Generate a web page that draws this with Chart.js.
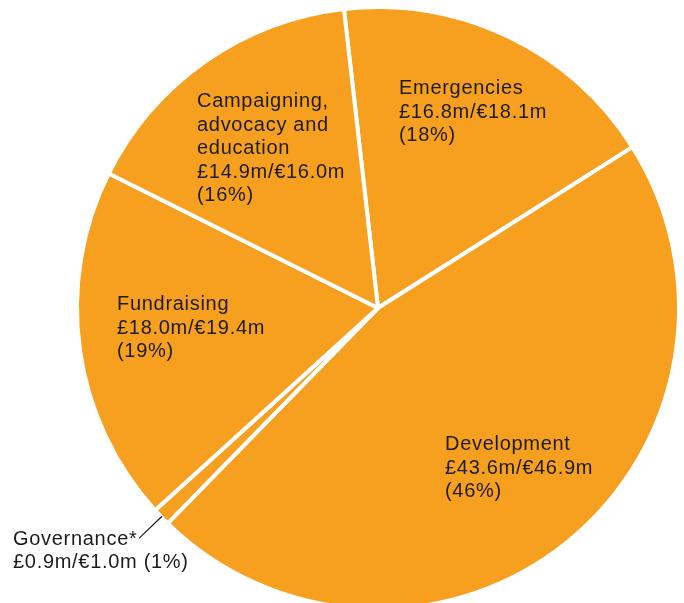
<!DOCTYPE html>
<html>
<head>
<meta charset="utf-8">
<script src="https://cdn.jsdelivr.net/npm/chart.js@4.4.1/dist/chart.umd.min.js"></script>
<style>
  html, body { margin: 0; padding: 0; background: #fff; overflow: hidden; width: 684px; height: 603px; }
  #spend { position: absolute; left: 0; top: 5px; }
</style>
</head>
<body>
<canvas id="spend" width="756" height="606"></canvas>
<script>
// spending by area, clockwise from just left of the top
const categories = ['Emergencies', 'Development', 'Governance*', 'Fundraising', 'Campaigning, advocacy and education'];
const poundsM = [16.8, 43.6, 0.9, 18.0, 14.9];
const eurosM = [18.1, 46.9, 1.0, 19.4, 16.0];
const percents = [18, 46, 1, 19, 16];

// how each label is broken into lines
const labelLines = [
  ['Emergencies'],
  ['Development'],
  ['Governance*'],
  ['Fundraising'],
  ['Campaigning,', 'advocacy and', 'education']
];

// label anchor (left x, first baseline) relative to the pie centre
const labelOffsets = [
  [21, -214],
  [67, 142],
  [-365, 237],
  [-261, 2],
  [-181, -201]
];

const ORANGE = '#F7A01F';

const labelPlugin = {
  id: 'sliceLabels',
  afterDatasetsDraw(chart) {
    const ctx = chart.ctx;
    const arcs = chart.getDatasetMeta(0).data;
    ctx.save();
    ctx.font = '20px "Liberation Sans", Arial, sans-serif';
    ctx.letterSpacing = '0.7px';
    ctx.fillStyle = '#1c1c1c';
    ctx.textAlign = 'left';
    ctx.textBaseline = 'alphabetic';
    arcs.forEach((arc, i) => {
      const lines = labelLines[i].slice();
      const money = '£' + poundsM[i].toFixed(1) + 'm/€' + eurosM[i].toFixed(1) + 'm';
      if (i === 2) {
        lines.push(money + ' (' + percents[i] + '%)');
      } else {
        lines.push(money);
        lines.push('(' + percents[i] + '%)');
      }
      const x = arc.x + labelOffsets[i][0];
      let y = arc.y + labelOffsets[i][1];
      const lh = i === 2 ? 23 : 23.6;
      lines.forEach(t => { ctx.fillText(t, x, y); y += lh; });
    });

    // leader line for the thin governance slice
    const g = arcs[2];
    const mid = (g.startAngle + g.endAngle) / 2;
    ctx.strokeStyle = '#1c1c1c';
    ctx.lineWidth = 1.2;
    ctx.beginPath();
    ctx.moveTo(g.x + Math.cos(mid) * (g.outerRadius - 1), g.y + Math.sin(mid) * (g.outerRadius - 1));
    ctx.lineTo(g.x + Math.cos(mid) * (g.outerRadius + 31), g.y + Math.sin(mid) * (g.outerRadius + 31));
    ctx.stroke();
    ctx.restore();
  }
};

new Chart(document.getElementById('spend'), {
  type: 'pie',
  data: {
    labels: categories,
    datasets: [{
      data: poundsM,
      backgroundColor: ORANGE,
      borderColor: '#ffffff',
      borderWidth: 4
    }]
  },
  options: {
    responsive: false,
    animation: false,
    rotation: -6.5,
    layout: { padding: 0 },
    plugins: {
      legend: { display: false },
      tooltip: { enabled: false }
    }
  },
  plugins: [labelPlugin]
});
</script>
</body>
</html>
